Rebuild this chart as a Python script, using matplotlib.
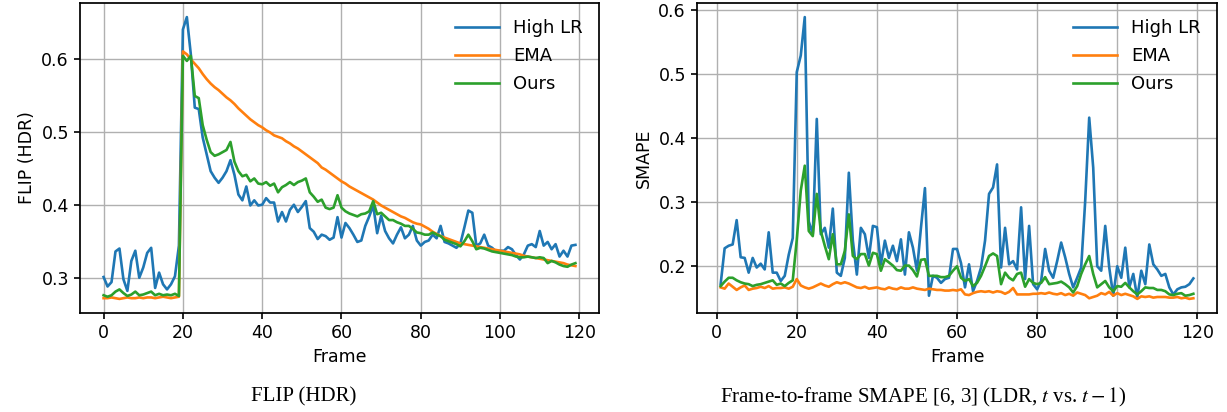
"""
FLIP (HDR) and frame-to-frame SMAPE per frame, three training variants.
"""
import numpy as np
import matplotlib.pyplot as plt

plt.rcParams['font.size'] = 12.5
plt.rcParams['lines.linewidth'] = 1.9
plt.rcParams['axes.linewidth'] = 1.25
plt.rcParams['mathtext.fontset'] = 'stix'

labels = ['High LR', 'EMA', 'Ours']

# left panel: FLIP (HDR), frames 0..119
flip_frames = np.arange(0, 120)
flip_high_lr = [
    0.302, 0.289, 0.295, 0.337, 0.341, 0.299, 0.283, 0.324, 0.338, 0.301,
    0.315, 0.335, 0.342, 0.287, 0.308, 0.292, 0.285, 0.292, 0.303, 0.345,
    0.641, 0.658, 0.607, 0.534, 0.532, 0.493, 0.470, 0.447, 0.438, 0.431,
    0.438, 0.447, 0.462, 0.442, 0.415, 0.407, 0.426, 0.400, 0.407, 0.400,
    0.401, 0.410, 0.404, 0.404, 0.378, 0.391, 0.378, 0.394, 0.401, 0.391,
    0.398, 0.406, 0.369, 0.364, 0.354, 0.360, 0.358, 0.353, 0.356, 0.384,
    0.356, 0.376, 0.369, 0.360, 0.350, 0.352, 0.372, 0.385, 0.400, 0.362,
    0.386, 0.365, 0.355, 0.348, 0.360, 0.370, 0.355, 0.360, 0.372, 0.352,
    0.345, 0.350, 0.352, 0.360, 0.355, 0.372, 0.350, 0.348, 0.345, 0.342,
    0.348, 0.370, 0.393, 0.390, 0.345, 0.348, 0.360, 0.345, 0.342, 0.337,
    0.338, 0.338, 0.343, 0.340, 0.332, 0.326, 0.333, 0.345, 0.347, 0.343,
    0.365, 0.345, 0.350, 0.340, 0.347, 0.330, 0.338, 0.330, 0.345, 0.346,
]
flip_ema = [
    0.273, 0.273, 0.274, 0.273, 0.272, 0.273, 0.274, 0.273, 0.273, 0.274,
    0.273, 0.274, 0.274, 0.273, 0.274, 0.275, 0.274, 0.273, 0.274, 0.275,
    0.611, 0.607, 0.600, 0.594, 0.588, 0.580, 0.573, 0.567, 0.562, 0.558,
    0.553, 0.548, 0.544, 0.539, 0.533, 0.528, 0.523, 0.518, 0.514, 0.510,
    0.507, 0.503, 0.500, 0.496, 0.494, 0.492, 0.488, 0.485, 0.481, 0.478,
    0.474, 0.470, 0.466, 0.462, 0.458, 0.452, 0.449, 0.445, 0.441, 0.437,
    0.433, 0.430, 0.426, 0.423, 0.420, 0.417, 0.414, 0.411, 0.408, 0.404,
    0.400, 0.397, 0.394, 0.391, 0.388, 0.385, 0.383, 0.380, 0.377, 0.375,
    0.374, 0.371, 0.368, 0.364, 0.361, 0.358, 0.356, 0.354, 0.352, 0.350,
    0.348, 0.347, 0.346, 0.345, 0.344, 0.343, 0.342, 0.341, 0.340, 0.339,
    0.338, 0.337, 0.336, 0.335, 0.334, 0.333, 0.331, 0.330, 0.329, 0.328,
    0.327, 0.326, 0.325, 0.324, 0.323, 0.322, 0.321, 0.319, 0.318, 0.317,
]
flip_ours = [
    0.277, 0.275, 0.277, 0.282, 0.285, 0.280, 0.276, 0.278, 0.282, 0.277,
    0.278, 0.280, 0.282, 0.277, 0.279, 0.277, 0.278, 0.277, 0.279, 0.276,
    0.605, 0.598, 0.605, 0.550, 0.547, 0.510, 0.490, 0.473, 0.468, 0.470,
    0.473, 0.476, 0.487, 0.460, 0.447, 0.440, 0.442, 0.433, 0.437, 0.430,
    0.429, 0.432, 0.427, 0.430, 0.418, 0.425, 0.428, 0.432, 0.428, 0.432,
    0.434, 0.437, 0.418, 0.412, 0.405, 0.408, 0.397, 0.395, 0.397, 0.414,
    0.397, 0.392, 0.389, 0.387, 0.385, 0.388, 0.389, 0.392, 0.406, 0.388,
    0.390, 0.385, 0.380, 0.380, 0.377, 0.375, 0.372, 0.372, 0.368, 0.363,
    0.362, 0.360, 0.360, 0.363, 0.360, 0.358, 0.353, 0.351, 0.349, 0.347,
    0.344, 0.351, 0.360, 0.351, 0.340, 0.342, 0.341, 0.339, 0.337, 0.336,
    0.335, 0.334, 0.333, 0.332, 0.330, 0.329, 0.329, 0.330, 0.329, 0.328,
    0.329, 0.328, 0.321, 0.324, 0.322, 0.319, 0.317, 0.316, 0.319, 0.321,
]

# right panel: SMAPE between consecutive frames, frames 1..119
smape_frames = np.arange(1, 120)
smape_high_lr = [
    0.172, 0.228, 0.232, 0.234, 0.272, 0.214, 0.213, 0.190, 0.213,
    0.198, 0.204, 0.195, 0.253, 0.190, 0.190, 0.177, 0.185, 0.218, 0.244,
    0.503, 0.529, 0.589, 0.270, 0.250, 0.430, 0.250, 0.260, 0.229, 0.290,
    0.190, 0.185, 0.213, 0.346, 0.240, 0.187, 0.260, 0.250, 0.213, 0.263,
    0.261, 0.203, 0.240, 0.213, 0.232, 0.208, 0.242, 0.187, 0.253, 0.229,
    0.193, 0.260, 0.322, 0.154, 0.185, 0.182, 0.174, 0.180, 0.182, 0.227,
    0.227, 0.205, 0.167, 0.203, 0.161, 0.177, 0.198, 0.240, 0.313, 0.323,
    0.359, 0.198, 0.260, 0.203, 0.208, 0.195, 0.292, 0.180, 0.263, 0.172,
    0.164, 0.177, 0.227, 0.193, 0.182, 0.208, 0.237, 0.214, 0.188, 0.167,
    0.182, 0.198, 0.302, 0.432, 0.354, 0.200, 0.193, 0.263, 0.198, 0.154,
    0.200, 0.182, 0.229, 0.167, 0.188, 0.151, 0.193, 0.172, 0.234, 0.203,
    0.195, 0.185, 0.188, 0.167, 0.156, 0.164, 0.167, 0.168, 0.172, 0.181,
]
smape_ema = [
    0.167, 0.165, 0.173, 0.168, 0.163, 0.167, 0.170, 0.163, 0.165,
    0.166, 0.168, 0.166, 0.169, 0.165, 0.166, 0.166, 0.167, 0.165, 0.168,
    0.180, 0.170, 0.167, 0.165, 0.167, 0.170, 0.173, 0.170, 0.168, 0.172,
    0.175, 0.173, 0.175, 0.173, 0.170, 0.167, 0.166, 0.168, 0.165, 0.166,
    0.167, 0.165, 0.164, 0.167, 0.165, 0.164, 0.167, 0.165, 0.165, 0.167,
    0.165, 0.164, 0.163, 0.165, 0.164, 0.163, 0.163, 0.162, 0.162, 0.163,
    0.162, 0.164, 0.156, 0.155, 0.158, 0.160, 0.161, 0.160, 0.161, 0.159,
    0.161, 0.160, 0.157, 0.160, 0.166, 0.156, 0.156, 0.156, 0.156, 0.157,
    0.157, 0.158, 0.157, 0.159, 0.157, 0.156, 0.158, 0.155, 0.157, 0.154,
    0.159, 0.157, 0.155, 0.150, 0.152, 0.154, 0.158, 0.156, 0.160, 0.154,
    0.158, 0.155, 0.157, 0.155, 0.153, 0.149, 0.153, 0.152, 0.153, 0.151,
    0.152, 0.152, 0.152, 0.151, 0.151, 0.152, 0.150, 0.151, 0.149, 0.150,
]
smape_ours = [
    0.169, 0.176, 0.182, 0.182, 0.178, 0.175, 0.173, 0.172, 0.169,
    0.171, 0.172, 0.174, 0.176, 0.178, 0.171, 0.173, 0.169, 0.174, 0.178,
    0.241, 0.318, 0.357, 0.255, 0.247, 0.313, 0.255, 0.232, 0.211, 0.250,
    0.203, 0.203, 0.224, 0.281, 0.216, 0.211, 0.219, 0.219, 0.201, 0.221,
    0.219, 0.193, 0.211, 0.206, 0.201, 0.194, 0.193, 0.201, 0.201, 0.194,
    0.184, 0.210, 0.211, 0.185, 0.185, 0.185, 0.183, 0.183, 0.185, 0.193,
    0.200, 0.182, 0.177, 0.180, 0.169, 0.174, 0.185, 0.200, 0.216, 0.220,
    0.216, 0.172, 0.190, 0.182, 0.178, 0.188, 0.190, 0.168, 0.180, 0.174,
    0.172, 0.174, 0.183, 0.172, 0.173, 0.174, 0.176, 0.172, 0.167, 0.159,
    0.169, 0.188, 0.203, 0.216, 0.188, 0.167, 0.172, 0.177, 0.167, 0.161,
    0.169, 0.168, 0.174, 0.167, 0.161, 0.156, 0.161, 0.167, 0.166, 0.166,
    0.163, 0.163, 0.161, 0.156, 0.155, 0.157, 0.158, 0.154, 0.155, 0.157,
]

W, H = 1227, 412
fig = plt.figure(figsize=(W / 100, H / 100), dpi=100)

# axes boxes in pixels: left, top, right, bottom
ax0 = fig.add_axes([80 / W, 1 - 313 / H, 519 / W, 310 / H])
ax1 = fig.add_axes([697 / W, 1 - 313 / H, 520 / W, 310 / H])

for y, lab in zip([flip_high_lr, flip_ema, flip_ours], labels):
    ax0.plot(flip_frames, y, label=lab)
for y, lab in zip([smape_high_lr, smape_ema, smape_ours], labels):
    ax1.plot(smape_frames, y, label=lab)

ax0.set_ylabel('FLIP (HDR)')
ax1.set_ylabel('SMAPE')
ax0.set_yticks([0.3, 0.4, 0.5, 0.6])
ax1.set_yticks([0.2, 0.3, 0.4, 0.5, 0.6])

for ax in (ax0, ax1):
    ax.set_xlabel('Frame')
    ax.set_xticks([0, 20, 40, 60, 80, 100, 120])
    ax.grid(True, color='#b0b0b0', linewidth=1.0)
    ax.tick_params(length=4.5, width=1.2)
    ax.legend(loc='upper right', frameon=False, labelspacing=0.55,
              handlelength=2.4, fontsize=13)

fig.text(304 / W, 1 - 397 / H, 'FLIP (HDR)', ha='center', va='center',
         family='Liberation Serif', fontsize=15)
fig.text(923 / W, 1 - 397 / H,
         'Frame-to-frame SMAPE [6, 3] (LDR, $t$ vs. $t-1$)',
         ha='center', va='center', family='Liberation Serif', fontsize=15)

fig.savefig('out.png', dpi=100)
